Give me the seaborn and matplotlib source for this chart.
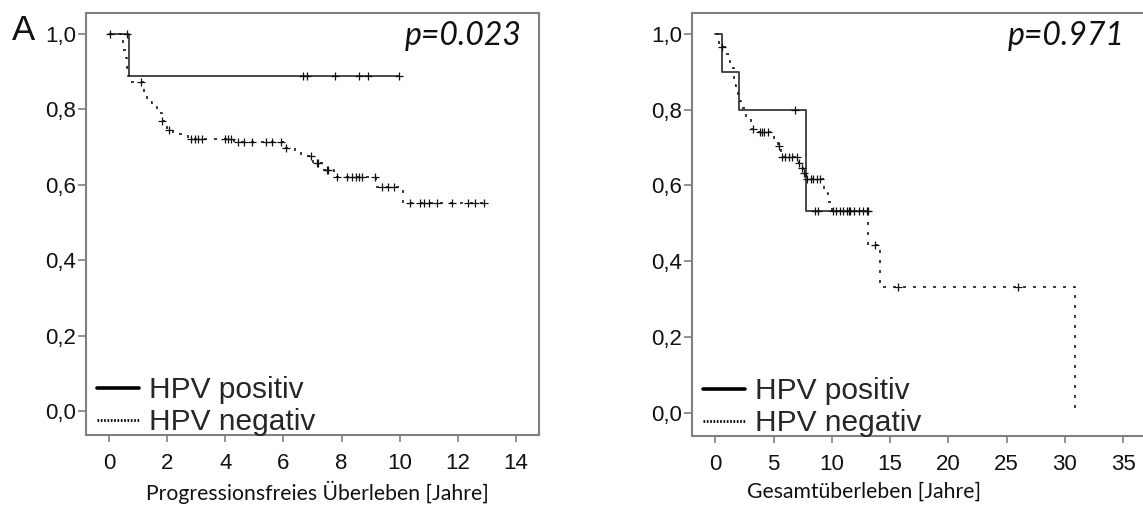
import numpy as np
import pandas as pd
import matplotlib
matplotlib.use("Agg")
import matplotlib.pyplot as plt
from matplotlib.lines import Line2D
from matplotlib.ticker import FuncFormatter
import seaborn as sns

# ---------------- data ----------------
# Panel A left: Progressionsfreies Ueberleben
pfs_pos_t = [0.0, 0.67, 9.97]
pfs_pos_s = [1.0, 0.889, 0.889]
pfs_pos_cens = [0.03, 0.6, 6.67, 6.8, 7.77, 8.6, 8.9, 9.97]

pfs_neg_t = [0.0, 0.4, 0.48, 0.57, 0.6, 0.65, 0.75, 1.2, 1.3, 1.48, 1.65, 1.8, 2.0,
             2.2, 2.7, 4.3, 6.05, 6.4, 6.6, 7.0, 7.4, 7.75, 9.2, 10.1, 12.9]
pfs_neg_s = [1.0, 0.984, 0.958, 0.936, 0.91, 0.889, 0.873, 0.838, 0.82, 0.806, 0.79,
             0.77, 0.746, 0.735, 0.722, 0.713, 0.698, 0.687, 0.677, 0.658, 0.64, 0.62,
             0.594, 0.552, 0.552]
pfs_neg_cens = [1.09, 1.81, 2.07, 2.8, 2.95, 3.05, 3.2, 4.0, 4.1, 4.2, 4.45, 4.65, 4.9,
                5.4, 5.6, 5.9, 6.08, 6.94, 7.14, 7.2, 7.5, 7.55, 7.84, 8.2, 8.35, 8.5,
                8.6, 8.7, 9.15, 9.4, 9.6, 9.8, 10.35, 10.7, 10.85, 11.0, 11.3, 11.8,
                12.35, 12.6, 12.9]

# Right: Gesamtueberleben
os_pos_t = [0.0, 0.57, 2.06, 7.8, 13.1]
os_pos_s = [1.0, 0.9, 0.8, 0.533, 0.533]
os_pos_cens = [6.8, 8.55, 8.8, 11.5, 13.1]

os_neg_t = [0.07, 0.3, 0.9, 1.2, 1.3, 1.6, 1.8, 1.95, 2.2, 2.6, 3.1, 3.7, 5.0, 5.4, 5.6,
            7.15, 7.4, 7.55, 7.8, 9.3, 9.65, 10.0, 13.1, 14.1, 30.9]
os_neg_s = [1.0, 0.965, 0.947, 0.931, 0.91, 0.865, 0.847, 0.823, 0.805, 0.78, 0.749,
            0.741, 0.715, 0.703, 0.676, 0.66, 0.646, 0.633, 0.617, 0.58, 0.557, 0.533,
            0.443, 0.333, 0.0]
os_neg_cens = [0.57, 3.2, 3.8, 4.0, 4.2, 4.5, 5.5, 5.7, 6.0, 6.3, 6.6, 7.0, 7.2, 7.45,
               7.6, 7.9, 8.2, 8.4, 8.7, 9.0, 10.1, 10.4, 10.7, 11.0, 11.3, 11.6, 11.9,
               12.3, 12.7, 13.0, 13.7, 15.7, 26.0]

pfs_xticks = [0, 2, 4, 6, 8, 10, 12, 14]
os_xticks = [0, 5, 10, 15, 20, 25, 30, 35]
yticks = [0.0, 0.2, 0.4, 0.6, 0.8, 1.0]
legend_labels = ["HPV positiv", "HPV negativ"]
pvals = ["p=0.023", "p=0.971"]
xlabels = ["Progressionsfreies Überleben [Jahre]", "Gesamtüberleben [Jahre]"]
panel_letter = "A"

# ---------------- style ----------------
sns.set_style("white")
plt.rcParams["font.family"] = ["Liberation Sans", "DejaVu Sans"]

W, H = 1143, 529
fig = plt.figure(figsize=(W / 100, H / 100), dpi=100)

def px_axes(l, r, t, b):
    return fig.add_axes([l / W, (H - b) / H, (r - l) / W, (b - t) / H])

axL = px_axes(86, 539, 13, 435)
axR = px_axes(692, 1158, 13, 436)

FRAME = "#808080"
POS_C = "#3a3a3a"
NEG_C = "#1a1a1a"
NEG_LS = (0, (1.8, 4.2))


def step_value(ts, ss, t):
    i = np.searchsorted(ts, t, side="right") - 1
    return ss[max(i, 0)]


def draw_km(ax, t, s, cens, color, ls, lw):
    df = pd.DataFrame({"t": t, "s": s})
    sns.lineplot(data=df, x="t", y="s", ax=ax, drawstyle="steps-post", color=color,
                 linestyle=ls, lw=lw, estimator=None, sort=False, legend=False)
    cs = [step_value(np.array(t), np.array(s), c) for c in cens]
    cdf = pd.DataFrame({"t": cens, "s": cs})
    sns.scatterplot(data=cdf, x="t", y="s", ax=ax, marker="+", color="#111111",
                    s=40, linewidth=0.9, legend=False, zorder=5)


draw_km(axL, pfs_pos_t, pfs_pos_s, pfs_pos_cens, POS_C, "-", 1.3)
draw_km(axL, pfs_neg_t, pfs_neg_s, pfs_neg_cens, NEG_C, NEG_LS, 1.2)
draw_km(axR, os_pos_t, os_pos_s, os_pos_cens, POS_C, "-", 1.3)
draw_km(axR, os_neg_t, os_neg_s, os_neg_cens, NEG_C, NEG_LS, 1.2)

comma = FuncFormatter(lambda v, p: f"{v:.1f}".replace(".", ","))

for ax, xt, xlim, ylim, pv, px, xl, xc in [
    (axL, pfs_xticks, (-0.8, 14.8), (-0.064, 1.056), pvals[0], 0.962, xlabels[0], 317),
    (axR, os_xticks, (-2.0, 38.0), (-0.061, 1.055), pvals[1], 0.929, xlabels[1], 864),
]:
    ax.set_xlim(*xlim)
    ax.set_ylim(*ylim)
    ax.set_xticks(xt)
    ax.set_yticks(yticks)
    ax.yaxis.set_major_formatter(comma)
    ax.set_xlabel("")
    ax.set_ylabel("")
    for sp in ax.spines.values():
        sp.set_visible(True)
        sp.set_color(FRAME)
        sp.set_linewidth(1.5)
    ax.tick_params(axis="both", which="major", direction="out", color=FRAME,
                   width=1.2, labelsize=16, labelcolor="#111111")
    ax.tick_params(axis="x", length=5, pad=8, bottom=True)
    ax.tick_params(axis="y", length=6, pad=1, left=True)
    ax.text(px, 0.945, pv, transform=ax.transAxes, ha="right", va="center",
            fontsize=23, style="italic", family=["Lato", "DejaVu Sans"], color="#111111")
    handles = [Line2D([0], [0], color="black", lw=2.6, ls="-"),
               Line2D([0], [0], color="black", lw=2.0, ls=(0, (0.6, 0.6)))]
    ax.legend(handles, legend_labels, loc="lower left", bbox_to_anchor=(0.018, -0.01),
              frameon=False, fontsize=21.5, handlelength=1.4, handletextpad=0.33,
              borderaxespad=0.0, borderpad=0.1, labelspacing=0.13)
    fig.text(xc / W, 1 - 492 / H, xl, ha="center", va="center", fontsize=15.2,
             family=["Lato", "DejaVu Sans"], color="#111111")

fig.text(24 / W, 1 - 31 / H, panel_letter, ha="center", va="center", fontsize=25,
         color="#111111")

fig.savefig("out.png", dpi=100, facecolor="white")
